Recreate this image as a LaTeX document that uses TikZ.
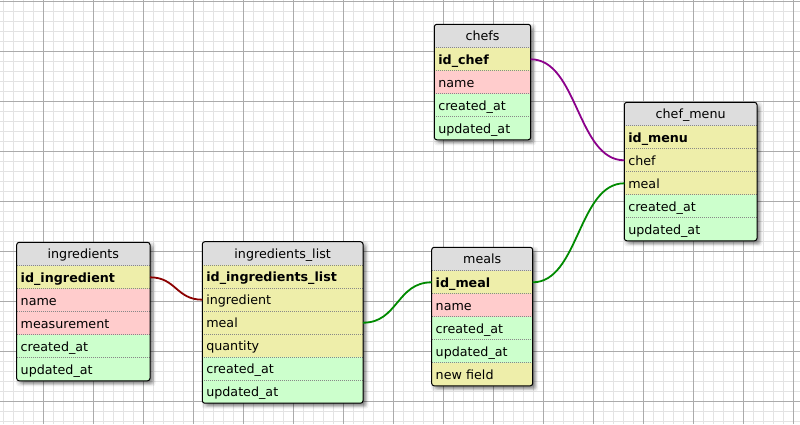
\documentclass[tikz,border=0pt]{standalone}
\usepackage{fontspec}
\setmainfont{DejaVu Sans}
\definecolor{hdr}{HTML}{DDDDDD}
\definecolor{yel}{HTML}{EEEEAA}
\definecolor{pnk}{HTML}{FFCCCC}
\definecolor{grn}{HTML}{CCFFCC}
\definecolor{minorgrid}{HTML}{E3E3E3}
\definecolor{majorgrid}{HTML}{ABABAB}
\definecolor{sepgray}{HTML}{888888}
\definecolor{lpurple}{HTML}{8B008B}
\definecolor{lgreen}{HTML}{008A00}
\definecolor{lred}{HTML}{8B0000}
\tikzset{
  cellbase/.style={anchor=north west, inner sep=0pt, outer sep=0pt,
    minimum height=23pt, text height=10.8pt, text depth=1.2pt,
    font=\fontsize{12.7}{15}\selectfont},
  hdrcell/.style={cellbase, fill=hdr, minimum height=23.5pt, align=center},
  rowcell/.style={cellbase, inner xsep=4pt, align=left},
  sepline/.style={sepgray, line width=0.8pt, dash pattern=on 1pt off 1pt},
  border/.style={black, line width=1pt, rounded corners=2.5pt},
  conn/.style={line width=1.8pt},
}
% #1 id, #2 left, #3 top, #4 width, #5 title, #6 number of rows, #7 rows
\newcommand\dbtable[7]{%
  \pgfmathsetmacro\tabB{#3+23.5+23*#6}%
  \pgfmathsetmacro\tabR{#2+#4}%
  \pgfmathsetmacro\tabTW{#4-8}%
  \foreach \s in {0,...,6}{%
    \fill[black, opacity=0.055, rounded corners=3pt]
      ({#2+2.5-\s+3},{#3+2.5-\s+3}) rectangle ({\tabR+2.5+\s-3},{\tabB+2.5+\s-3});
  }
  \foreach \s in {0,...,3}{%
    \fill[black, opacity=0.07, rounded corners=3pt]
      ({#2+2-\s+4},{#3+2-\s+4}) rectangle ({\tabR+2+\s-1},{\tabB+2+\s-1});
  }
  \begin{scope}
    \clip[rounded corners=2.5pt] (#2,#3) rectangle (\tabR,\tabB);
    \node[hdrcell, minimum width=#4pt] (#1-h) at (#2,#3) {#5};
    \foreach \c/\t [count=\i] in {#7}{%
      \node[rowcell, fill=\c, minimum width=#4pt, text width=\tabTW pt]
        (#1-\i) at (#2,{#3+23.5+23*(\i-1)}) {\t};
      \draw[sepline] (#1-\i.north west) -- (#1-\i.north east);
    }
  \end{scope}
  \draw[border] (#2,#3) rectangle (\tabR,\tabB);
}
\begin{document}
\begin{tikzpicture}[x=1pt, y=-1pt]
  \useasboundingbox (0,0) rectangle (800,424);
  \fill[white] (0,0) rectangle (800,424);
  % grid
  \foreach \x in {3.3,13.3,...,800}{\draw[minorgrid, line width=1pt] (\x,0) -- (\x,424);}
  \foreach \y in {1.7,11.7,...,424}{\draw[minorgrid, line width=1pt] (0,\y) -- (800,\y);}
  \foreach \x in {43.3,93.3,...,800}{\draw[majorgrid, line width=1pt] (\x,0) -- (\x,424);}
  \foreach \y in {1.7,51.7,...,424}{\draw[majorgrid, line width=1pt] (0,\y) -- (800,\y);}

  \dbtable{chefs}{434.3}{24.3}{96.4}{chefs}{4}%
    {yel/\bfseries id\_chef, pnk/name, grn/created\_at, grn/updated\_at}
  \dbtable{menu}{624.3}{102.3}{132.7}{chef\_menu}{5}%
    {yel/\bfseries id\_menu, yel/chef, yel/meal, grn/created\_at, grn/updated\_at}
  \dbtable{ingr}{16.7}{242.3}{133.3}{ingredients}{5}%
    {yel/\bfseries id\_ingredient, pnk/name, pnk/measurement, grn/created\_at, grn/updated\_at}
  \dbtable{ilist}{202.3}{241.7}{160.7}{ingredients\_list}{6}%
    {yel/\bfseries id\_ingredients\_list, yel/ingredient, yel/meal, yel/quantity, grn/created\_at, grn/updated\_at}
  \dbtable{meals}{431.7}{247.3}{101}{meals}{5}%
    {yel/\bfseries id\_meal, pnk/name, grn/created\_at, grn/updated\_at, yel/new field}

  % connectors
  \draw[conn, lpurple] (chefs-1.east) .. controls +(47,0) and +(-47,0) .. (menu-2.west);
  \draw[conn, lgreen] (meals-1.east) .. controls +(46,0) and +(-46,0) .. (menu-3.west);
  \draw[conn, lgreen] (ilist-3.east) .. controls +(35,0) and +(-35,0) .. (meals-1.west);
  \draw[conn, lred] (ingr-1.east) .. controls +(26,0) and +(-26,0) .. (ilist-2.west);
\end{tikzpicture}
\end{document}
